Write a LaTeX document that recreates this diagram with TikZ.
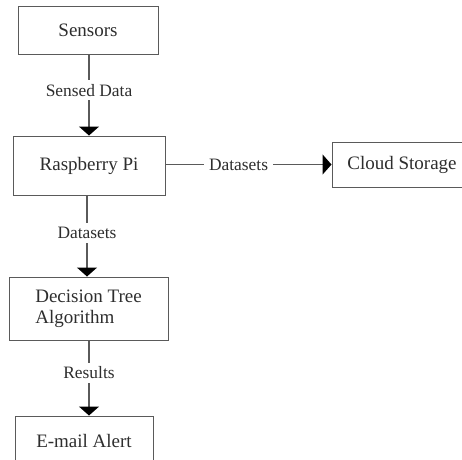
\documentclass[tikz,border=0pt]{standalone}
\usepackage{fontspec}
\setmainfont{Liberation Serif}
\usetikzlibrary{arrows.meta}
\definecolor{edgegray}{HTML}{5A5A5A}
\definecolor{txt}{HTML}{2E2E2E}
\tikzset{
  box/.style={draw=edgegray, line width=1pt, rectangle, inner sep=0pt, text=txt,
    font=\fontsize{19}{21}\selectfont},
  conn/.style={draw=edgegray, line width=1.3pt, -{Triangle[width=20pt, length=9pt, color=black]}},
  lab/.style={fill=white, text=txt, inner xsep=5pt, inner ysep=4pt,
    font=\fontsize{17.4}{20}\selectfont}
}
\begin{document}
\begin{tikzpicture}[x=1pt,y=-1pt]
\useasboundingbox (0,0) rectangle (462,459);
\clip (0,0) rectangle (462,459);
\fill[white] (0,0) rectangle (462,459);
\node[box, minimum width=140pt, minimum height=48pt] (sen) at (88,30) {Sensors};
\node[box, minimum width=152pt, minimum height=59pt] (pi) at (89,165.5) {Raspberry Pi};
\node[box, minimum width=140pt, minimum height=45pt] (cloud) at (402,164.5) {Cloud Storage};
\node[box, minimum width=159pt, minimum height=63pt, align=left] (dt) at (88.5,308.5) {Decision Tree\\Algorithm};
\node[box, minimum width=138pt, minimum height=50pt] (mail) at (84,441) {E-mail Alert};
\draw[conn] (sen.south -| 89,0) -- node[lab, pos=0.44] {Sensed Data} (pi.north -| 89,0);
\draw[conn] (pi.south -| 87,0) -- node[lab, pos=0.46] {Datasets} (dt.north -| 87,0);
\draw[conn] (dt.south -| 89,0) -- node[lab, pos=0.43] {Results} (mail.north -| 89,0);
\draw[conn] (pi.east |- cloud.west) -- node[lab, pos=0.44] {Datasets} (cloud.west);
\end{tikzpicture}
\end{document}
